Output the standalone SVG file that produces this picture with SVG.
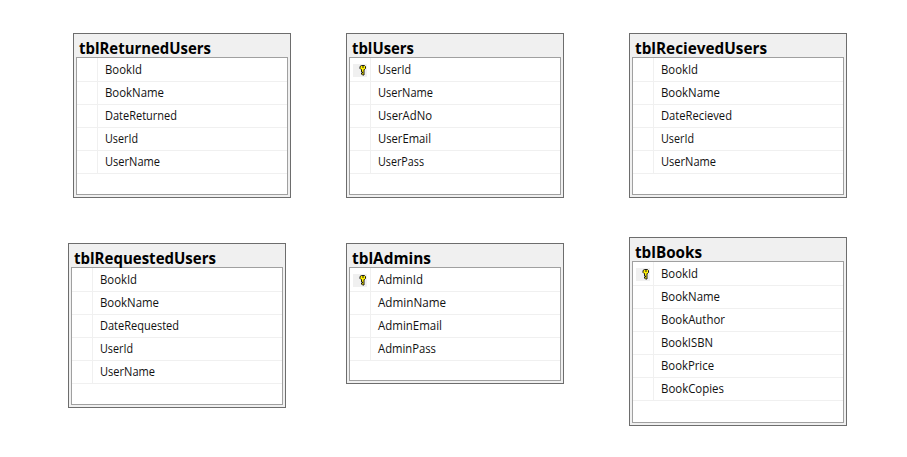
<svg xmlns="http://www.w3.org/2000/svg" width="907" height="457" viewBox="0 0 907 457">
<style>
.o{fill:#f0f0f0;stroke:#6d6d6d;stroke-width:1}
.i{fill:#fff;stroke:#a0a0a0;stroke-width:1}
.s{stroke:#f0f0f0;stroke-width:1;fill:none}
.t{font:bold 16px "Open Sans","Noto Sans",sans-serif;fill:#000}
.r{font:12px "Open Sans","Noto Sans",sans-serif;fill:#111}
.b{fill:#f0f0f0}
.k{fill:#ffef00;stroke:#1a1a1a;stroke-width:1}
</style>
<defs>
<g id="key"><rect class="b" x="0" y="0" width="14" height="13"/><path class="k" d="M8.500 1.500h3l1 1v2l-1 1h-.5v5.500h-1.500l-1-1v-1h1v-1h-1v-2.500h-.5l-1-1v-2z"/><rect x="9" y="2.500" width="2" height="1" fill="#1a1a1a"/></g>
</defs>
<g id="connectors"/>
<g id="tblReturnedUsers">
<rect class="o" x="73.500" y="33.500" width="217" height="164"/><rect class="i" x="76.500" y="57.500" width="211" height="137"/>
<path class="s" d="M77 81.500H287M77 104.500H287M77 127.500H287M77 150.500H287M77 173.500H287M97.500 58V173"/>
<text class="t" x="79" y="54" textLength="132" lengthAdjust="spacingAndGlyphs">tblReturnedUsers</text>
<text class="r" x="105" y="74" textLength="37" lengthAdjust="spacingAndGlyphs">BookId</text><text class="r" x="105" y="97" textLength="59" lengthAdjust="spacingAndGlyphs">BookName</text><text class="r" x="105" y="120" textLength="72" lengthAdjust="spacingAndGlyphs">DateReturned</text><text class="r" x="105" y="143" textLength="33" lengthAdjust="spacingAndGlyphs">UserId</text><text class="r" x="105" y="166" textLength="55" lengthAdjust="spacingAndGlyphs">UserName</text>
</g>
<g id="tblUsers">
<rect class="o" x="346.500" y="33.500" width="217" height="164"/><rect class="i" x="349.500" y="57.500" width="211" height="137"/>
<path class="s" d="M350 81.500H560M350 104.500H560M350 127.500H560M350 150.500H560M350 173.500H560M370.500 58V173"/>
<text class="t" x="352" y="54" textLength="62" lengthAdjust="spacingAndGlyphs">tblUsers</text>
<use href="#key" x="353" y="64"/>
<text class="r" x="378" y="74" textLength="33" lengthAdjust="spacingAndGlyphs">UserId</text><text class="r" x="378" y="97" textLength="55" lengthAdjust="spacingAndGlyphs">UserName</text><text class="r" x="378" y="120" textLength="54" lengthAdjust="spacingAndGlyphs">UserAdNo</text><text class="r" x="378" y="143" textLength="53" lengthAdjust="spacingAndGlyphs">UserEmail</text><text class="r" x="378" y="166" textLength="46" lengthAdjust="spacingAndGlyphs">UserPass</text>
</g>
<g id="tblRecievedUsers">
<rect class="o" x="629.500" y="33.500" width="217" height="164"/><rect class="i" x="632.500" y="57.500" width="211" height="137"/>
<path class="s" d="M633 81.500H843M633 104.500H843M633 127.500H843M633 150.500H843M633 173.500H843M653.500 58V173"/>
<text class="t" x="635" y="54" textLength="132" lengthAdjust="spacingAndGlyphs">tblRecievedUsers</text>
<text class="r" x="661" y="74" textLength="37" lengthAdjust="spacingAndGlyphs">BookId</text><text class="r" x="661" y="97" textLength="59" lengthAdjust="spacingAndGlyphs">BookName</text><text class="r" x="661" y="120" textLength="71" lengthAdjust="spacingAndGlyphs">DateRecieved</text><text class="r" x="661" y="143" textLength="33" lengthAdjust="spacingAndGlyphs">UserId</text><text class="r" x="661" y="166" textLength="55" lengthAdjust="spacingAndGlyphs">UserName</text>
</g>
<g id="tblRequestedUsers">
<rect class="o" x="68.500" y="243.500" width="217" height="164"/><rect class="i" x="71.500" y="267.500" width="211" height="137"/>
<path class="s" d="M72 291.500H282M72 314.500H282M72 337.500H282M72 360.500H282M72 383.500H282M92.500 268V383"/>
<text class="t" x="74" y="264" textLength="142" lengthAdjust="spacingAndGlyphs">tblRequestedUsers</text>
<text class="r" x="100" y="284" textLength="37" lengthAdjust="spacingAndGlyphs">BookId</text><text class="r" x="100" y="307" textLength="59" lengthAdjust="spacingAndGlyphs">BookName</text><text class="r" x="100" y="330" textLength="79" lengthAdjust="spacingAndGlyphs">DateRequested</text><text class="r" x="100" y="353" textLength="33" lengthAdjust="spacingAndGlyphs">UserId</text><text class="r" x="100" y="376" textLength="55" lengthAdjust="spacingAndGlyphs">UserName</text>
</g>
<g id="tblAdmins">
<rect class="o" x="346.500" y="243.500" width="217" height="140"/><rect class="i" x="349.500" y="267.500" width="211" height="113"/>
<path class="s" d="M350 291.500H560M350 314.500H560M350 337.500H560M350 360.500H560M370.500 268V360"/>
<text class="t" x="352" y="264" textLength="79" lengthAdjust="spacingAndGlyphs">tblAdmins</text>
<use href="#key" x="353" y="274"/>
<text class="r" x="378" y="284" textLength="45" lengthAdjust="spacingAndGlyphs">AdminId</text><text class="r" x="378" y="307" textLength="68" lengthAdjust="spacingAndGlyphs">AdminName</text><text class="r" x="378" y="330" textLength="64" lengthAdjust="spacingAndGlyphs">AdminEmail</text><text class="r" x="378" y="353" textLength="58" lengthAdjust="spacingAndGlyphs">AdminPass</text>
</g>
<g id="tblBooks">
<rect class="o" x="629.500" y="237.500" width="217" height="188"/><rect class="i" x="632.500" y="261.500" width="211" height="161"/>
<path class="s" d="M633 285.500H843M633 308.500H843M633 331.500H843M633 354.500H843M633 377.500H843M633 400.500H843M653.500 262V400"/>
<text class="t" x="635" y="258" textLength="67" lengthAdjust="spacingAndGlyphs">tblBooks</text>
<use href="#key" x="636" y="268"/>
<text class="r" x="661" y="278" textLength="37" lengthAdjust="spacingAndGlyphs">BookId</text><text class="r" x="661" y="301" textLength="59" lengthAdjust="spacingAndGlyphs">BookName</text><text class="r" x="661" y="324" textLength="64" lengthAdjust="spacingAndGlyphs">BookAuthor</text><text class="r" x="661" y="347" textLength="52" lengthAdjust="spacingAndGlyphs">BookISBN</text><text class="r" x="661" y="370" textLength="53" lengthAdjust="spacingAndGlyphs">BookPrice</text><text class="r" x="661" y="393" textLength="63" lengthAdjust="spacingAndGlyphs">BookCopies</text>
</g>
</svg>
